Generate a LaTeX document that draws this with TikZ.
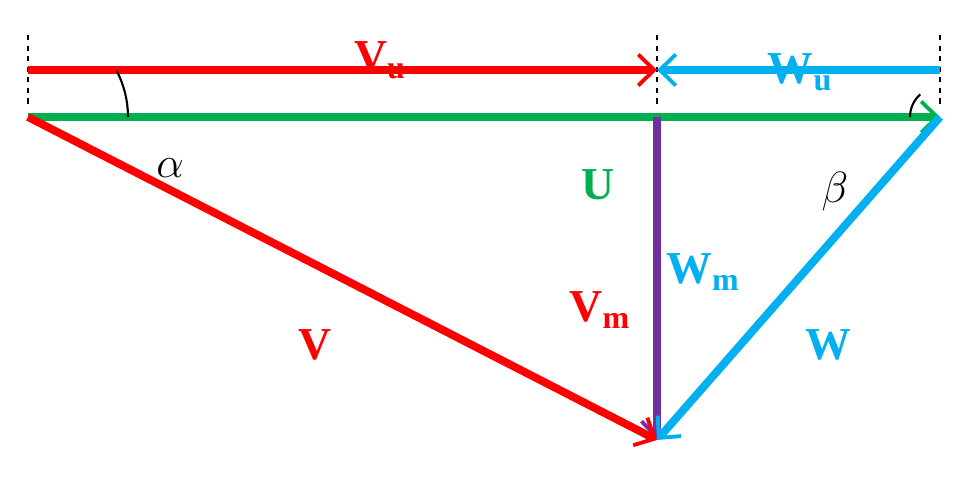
\documentclass[tikz,border=0pt]{standalone}
\usepackage{fontspec}
\setmainfont{Liberation Serif}
\usetikzlibrary{arrows.meta}
\definecolor{vred}{HTML}{FF0000}
\definecolor{ugreen}{HTML}{00B050}
\definecolor{wblue}{HTML}{00B0F0}
\definecolor{mpurp}{HTML}{7030A0}
\tikzset{
 vec/.style={line width=4.5pt,-{Straight Barb[length=0.32cm,width=0.62cm,line width=2.2pt]}},
 lab/.style={font=\fontsize{26}{30}\selectfont\bfseries},
 glab/.style={font=\fontsize{30}{34}\selectfont\itshape},
 guide/.style={dashed,line width=1pt}
}
\begin{document}
\begin{tikzpicture}[x=0.02cm,y=-0.02cm]
\useasboundingbox (0,0) rectangle (980,483);
\coordinate (L) at (28,117);
\coordinate (R) at (940,117);
\coordinate (B) at (657,440);
\coordinate (M) at (657,117);
\coordinate (TL) at (28,70);
\coordinate (TM) at (657,70);
\coordinate (TR) at (940,70);
\draw[guide] (28,35) -- (28,108);
\draw[guide] (657,35) -- (657,108);
\draw[guide] (940,35) -- (940,108);
\draw[vec,vred] (TL) -- (TM);
\draw[vec,wblue] (TR) -- (TM);
\draw[vec,ugreen] (L) -- (R);
\draw[vec,mpurp] (M) -- (B);
\draw[vec,vred] (L) -- (B);
\draw[vec,wblue] (R) -- (B);
\draw[line width=1.2pt] ([shift={(0:100)}]L) arc[start angle=0,end angle=-27.2,radius=100];
\draw[line width=1.2pt] ([shift={(180:30)}]R) arc[start angle=180,end angle=228.8,radius=30];
\node[lab,vred] (vu) at (380,60) {V\textsubscript{u}};
\node[lab,wblue] (wu) at (800,72) {W\textsubscript{u}};
\node[lab,ugreen] (u) at (598,185) {U};
\node[lab,wblue] (wm) at (703,272) {W\textsubscript{m}};
\node[lab,vred] (vm) at (600,310) {V\textsubscript{m}};
\node[lab,vred] (v) at (315,345) {V};
\node[lab,wblue] (w) at (828,345) {W};
\node[glab] (al) at (170,168) {$\alpha$};
\node[glab] (be) at (835,192) {$\beta$};
\end{tikzpicture}
\end{document}
